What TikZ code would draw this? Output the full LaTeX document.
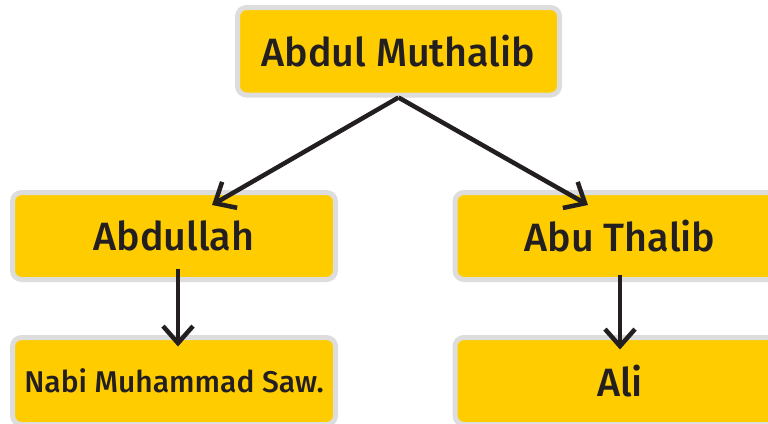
\documentclass[tikz,border=0pt]{standalone}
\usepackage{fontspec}
\setmainfont{Fira Sans}[BoldFont={Fira Sans Medium}]
\usetikzlibrary{arrows.meta,calc}
\definecolor{boxyellow}{RGB}{255,204,0}
\definecolor{boxgray}{RGB}{221,221,221}
\definecolor{ink}{RGB}{35,31,32}
\begin{document}
\begin{tikzpicture}[x=1pt,y=-1pt,
  famblock/.style={rectangle, draw=boxgray, line width=5pt, fill=boxyellow,
    rounded corners=9pt, inner sep=0pt, text=ink, align=center},
  bigtxt/.style={font=\fontsize{39.5}{46}\selectfont\bfseries},
  smalltxt/.style={font=\fontsize{30}{36}\selectfont\bfseries},
  conn/.style={draw=ink, line width=4.5pt, -{Straight Barb[length=17pt,width=30pt,line width=4.5pt]}}
]
\useasboundingbox (0,0) rectangle (768,423);

\node[famblock, bigtxt, minimum width=322pt, minimum height=87.5pt] (top) at (398.5,51.25) {Abdul Muthalib};
\node[famblock, bigtxt, minimum width=323pt, minimum height=87pt] (abdullah) at (174,236) {Abdullah};
\node[famblock, bigtxt, minimum width=330pt, minimum height=87pt] (abuthalib) at (620,236) {Abu Thalib};
\node[famblock, smalltxt, minimum width=323pt, minimum height=87pt] (nabi) at (174,381) {Nabi Muhammad Saw.};
\node[famblock, bigtxt, minimum width=330pt, minimum height=87pt] (ali) at (620,381) {Ali};

\coordinate (tipL) at (212,205);
\coordinate (tipR) at (588,205);
\draw[conn] (top.south) -- (tipL);
\draw[conn] (top.south) -- (tipR);
\draw[conn] ($(abdullah.south)+(4,-13.5)$) -- ($(nabi.north)+(4,11.5)$);
\draw[conn] ($(abuthalib.south)+(0,-7.5)$) -- ($(ali.north)+(0,14.5)$);
\end{tikzpicture}
\end{document}
